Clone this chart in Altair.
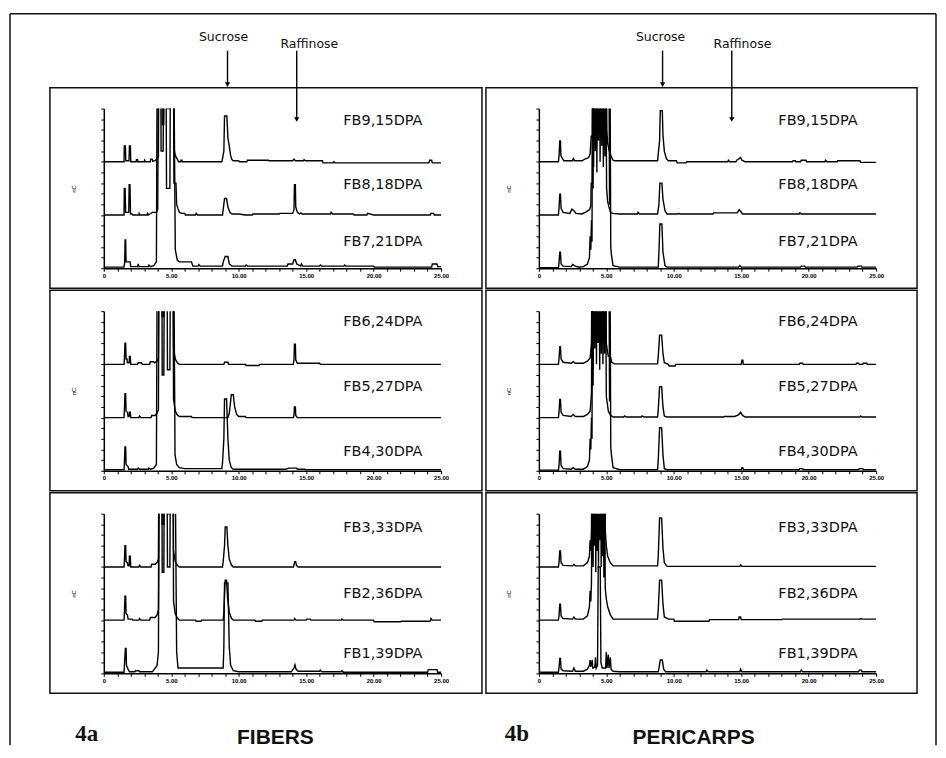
import altair as alt
import pandas as pd

# ---------------- data ----------------
X_TICKS = list(range(0, 26))
Y_TICKS = [0, 0.2, 0.4, 0.6, 0.8, 1.0, 1.2, 1.4, 1.6, 1.8, 2.0, 2.2, 2.4, 2.6, 2.8, 3.0]

ANN_NAMES = ["Sucrose", "Raffinose"]
ANN_T = [9.17, 14.3]

# Fibers, row 1
A1_FB9 = [(0,0),(1.5,0),(1.52,0.30),(1.6,0.30),(1.63,0.02),(1.87,0.02),(1.9,0.30),(1.97,0.30),(2.0,0),(2.4,0),(2.42,0.04),(2.5,0.04),(2.52,0),(3.0,0),(3.02,0.03),(3.1,0),(3.45,0),(3.47,0.05),(3.6,0.05),(3.62,0.01),(3.8,0.02),(3.95,0.06),(4.05,0.1),(4.1,3.6),(4.3,3.6),(4.33,0.7),(4.45,0.7),(4.5,3.6),(4.68,3.6),(4.72,1.0),(4.9,1.0),(4.95,3.6),(5.15,3.6),(5.2,0.25),(5.3,0.12),(5.45,0.05),(5.55,0.0),(5.7,0.0),(5.72,0.03),(5.8,0.03),(5.82,0),(8.75,0),(8.8,0.06),(8.9,0.2),(8.95,0.86),(9.12,0.86),(9.2,0.45),(9.3,0.3),(9.4,0.12),(9.5,0.04),(9.6,0.02),(10.0,0.02),(10.05,0),(10.6,0),(10.65,0.03),(12.2,0.03),(12.25,0.02),(14.0,0.02),(14.1,0.05),(14.2,0.02),(14.8,0.02),(14.85,0.04),(14.95,0.02),(16.2,0.02),(16.25,-0.02),(17.0,-0.02),(17.05,0.0),(17.15,-0.02),(24.1,-0.02),(24.15,0.03),(24.3,0.03),(24.35,-0.02),(25,-0.02)]
A1_FB8 = [(0,0),(1.5,0),(1.52,0.5),(1.58,0.5),(1.62,0.05),(1.85,0.05),(1.88,0.57),(1.94,0.57),(1.98,0.02),(2.1,0.02),(2.15,0),(2.6,0),(2.62,0.03),(2.7,0),(3.2,0),(3.25,0.03),(3.3,0),(3.6,0.05),(3.9,0.05),(4.0,0.1),(4.05,3.6),(4.2,3.6),(4.25,1.2),(4.4,1.2),(4.45,3.6),(4.6,3.6),(4.65,0.5),(4.9,0.5),(4.95,3.6),(5.15,3.6),(5.2,0.6),(5.35,0.6),(5.4,0.2),(5.5,0.12),(5.6,0.05),(5.8,0.03),(6.0,0.03),(6.05,0),(6.8,0),(6.85,0.03),(6.95,0),(8.8,0),(8.85,0.1),(8.95,0.31),(9.1,0.31),(9.2,0.15),(9.35,0.05),(9.5,0.02),(10.0,0.02),(10.5,0.0),(11.0,0.0),(11.05,0.02),(13.0,0.02),(13.05,0.03),(14.0,0.03),(14.1,0.1),(14.13,0.57),(14.2,0.57),(14.23,0.15),(14.35,0.05),(14.5,0.02),(14.6,0.04),(14.7,0.02),(16.8,0.02),(16.85,0.05),(16.95,0.02),(18.5,0.02),(18.55,0),(19.5,0),(19.55,0.03),(20.0,0.0),(24.2,0),(24.25,0.03),(24.45,0.03),(24.5,0),(25,0)]
A1_FB7 = [(0,0.02),(1.5,0.02),(1.55,0.12),(1.58,0.53),(1.62,0.53),(1.65,0.12),(1.95,0.12),(2.0,0.03),(2.5,0.03),(2.55,0.08),(2.6,0.03),(3.3,0.03),(3.35,0.06),(3.45,0.03),(3.7,0.05),(3.9,0.12),(3.95,3.6),(5.2,3.6),(5.3,0.35),(5.45,0.15),(5.6,0.12),(6.5,0.12),(6.6,0.04),(7.0,0.04),(7.05,0.07),(7.15,0.04),(8.8,0.04),(8.85,0.12),(9.0,0.22),(9.2,0.22),(9.3,0.08),(9.5,0.04),(10.5,0.04),(10.55,0.06),(10.65,0.04),(13.6,0.04),(13.65,0.08),(14.0,0.08),(14.1,0.16),(14.2,0.16),(14.3,0.08),(14.6,0.04),(14.65,0.08),(14.75,0.04),(16.0,0.04),(16.05,0.06),(16.15,0.04),(17.8,0.04),(17.85,0.06),(17.95,0.04),(20.0,0.04),(20.05,0.02),(24.3,0.02),(24.35,0.08),(24.7,0.08),(24.75,0.03),(25,0.03)]

# Fibers, row 2
A2_FB6 = [(0,0),(1.5,0),(1.53,0.12),(1.57,0.40),(1.62,0.40),(1.65,0.1),(1.72,0.1),(1.75,0.03),(1.88,0.03),(1.9,0.15),(1.96,0.15),(2.0,0),(2.5,0),(2.55,0.03),(2.8,0.03),(2.85,0),(3.4,0),(3.45,0.05),(3.7,0.05),(3.75,0.03),(3.95,0.06),(4.05,0.12),(4.1,3.6),(4.3,3.6),(4.33,0.9),(4.45,0.9),(4.5,3.6),(4.68,3.6),(4.72,1.1),(4.9,1.1),(4.95,3.6),(5.12,3.6),(5.17,0.3),(5.3,0.1),(5.45,0.03),(5.6,0),(8.9,0),(8.95,0.04),(9.2,0.04),(9.25,0),(10.5,0),(10.55,-0.02),(11.5,-0.02),(11.55,0),(14.05,0),(14.1,0.1),(14.13,0.38),(14.2,0.38),(14.23,0.08),(14.35,0.02),(16.0,0.02),(16.05,0),(25,0)]
A2_FB5 = [(0,0),(1.5,0),(1.53,0.15),(1.57,0.45),(1.62,0.45),(1.65,0.12),(1.75,0.1),(1.8,0.02),(1.88,0.02),(1.9,0.1),(1.96,0.1),(2.0,0),(2.6,0),(2.65,0.03),(2.75,0),(3.5,0),(3.55,0.04),(3.8,0.04),(3.95,0.08),(4.05,0.15),(4.1,3.6),(4.3,3.6),(4.33,0.8),(4.45,0.8),(4.5,3.6),(4.68,3.6),(4.72,0.9),(4.9,0.9),(4.95,3.6),(5.12,3.6),(5.17,0.35),(5.3,0.12),(5.45,0.05),(5.6,0.02),(6.5,0.02),(6.55,0),(9.2,0),(9.3,0.08),(9.4,0.3),(9.45,0.43),(9.6,0.43),(9.7,0.2),(9.85,0.06),(10.0,0.02),(10.5,0.02),(10.55,0),(14.05,0),(14.1,0.05),(14.13,0.2),(14.2,0.2),(14.23,0.04),(14.35,0),(25,0)]
A2_FB4 = [(0,0.02),(1.5,0.02),(1.53,0.15),(1.57,0.45),(1.62,0.45),(1.65,0.12),(1.8,0.08),(1.85,0.03),(2.5,0.03),(2.55,0.05),(2.65,0.03),(3.3,0.03),(3.35,0.05),(3.45,0.03),(3.7,0.05),(3.9,0.12),(3.95,3.6),(5.2,3.6),(5.28,0.3),(5.4,0.12),(5.6,0.06),(6.0,0.04),(8.75,0.04),(8.8,0.15),(8.9,0.6),(8.95,1.35),(9.1,1.35),(9.2,0.6),(9.3,0.2),(9.45,0.06),(9.6,0.03),(13.5,0.03),(13.7,0.05),(14.3,0.05),(14.35,0.03),(14.9,0.03),(14.95,0.02),(25,0.02)]

# Fibers, row 3
A3_FB3 = [(0,0),(1.5,0),(1.53,0.12),(1.57,0.40),(1.62,0.40),(1.65,0.1),(1.75,0.08),(1.8,0.02),(1.88,0.02),(1.9,0.2),(1.96,0.2),(2.0,0),(2.6,0),(2.65,0.03),(2.75,0),(3.5,0),(3.55,0.05),(3.8,0.05),(3.95,0.08),(4.05,0.15),(4.1,3.6),(4.3,3.6),(4.33,0.8),(4.45,0.8),(4.5,3.6),(4.68,3.6),(4.72,1.0),(4.9,1.0),(4.95,3.6),(5.12,3.6),(5.17,0.3),(5.3,0.1),(5.45,0.03),(5.6,0),(8.8,0),(8.85,0.1),(8.95,0.4),(9.0,0.75),(9.12,0.75),(9.2,0.4),(9.3,0.15),(9.45,0.04),(9.6,0),(14.05,0),(14.1,0.04),(14.15,0.1),(14.22,0.1),(14.28,0.03),(14.4,0),(25,0)]
A3_FB2 = [(0,0),(1.5,0),(1.53,0.15),(1.57,0.45),(1.62,0.45),(1.65,0.12),(1.75,0.1),(1.8,0.02),(2.1,0.02),(2.15,0),(2.6,0),(2.65,0.03),(2.75,0),(3.4,0),(3.45,0.05),(3.8,0.05),(3.95,0.1),(4.05,0.2),(4.1,3.6),(4.3,3.6),(4.33,0.9),(4.45,0.9),(4.5,3.6),(4.68,3.6),(4.72,1.0),(4.9,1.0),(4.95,3.6),(5.12,3.6),(5.17,0.35),(5.3,0.12),(5.45,0.04),(5.6,0),(6.8,0),(6.85,-0.02),(7.2,-0.02),(7.25,0),(8.85,0),(8.9,0.15),(8.95,0.5),(9.0,0.75),(9.1,0.75),(9.18,0.4),(9.3,0.15),(9.45,0.04),(9.6,0),(11.2,0),(11.25,-0.02),(11.7,-0.02),(11.75,0),(14.1,0),(14.15,0.03),(14.25,0),(15.0,0),(15.05,0.02),(15.3,0.02),(15.35,0),(17.6,0),(17.65,0.02),(17.75,0),(20.0,0),(20.05,-0.03),(22.0,-0.03),(22.05,-0.02),(24.2,-0.02),(24.25,0.03),(24.35,0),(25,0)]
A3_FB1 = [(0,0.02),(1.5,0.02),(1.53,0.15),(1.6,0.47),(1.65,0.47),(1.68,0.15),(1.8,0.08),(1.9,0.03),(2.3,0.03),(2.35,0.05),(2.6,0.05),(2.65,0.03),(3.6,0.03),(3.7,0.06),(3.95,0.15),(4.05,0.4),(4.1,3.6),(5.3,3.6),(5.4,0.4),(5.5,0.1),(8.85,0.1),(8.9,0.5),(8.95,1.7),(9.2,1.7),(9.3,0.5),(9.4,0.15),(9.6,0.05),(10.0,0.03),(13.9,0.03),(14.1,0.1),(14.17,0.16),(14.25,0.08),(14.4,0.04),(16.0,0.04),(16.05,0.06),(16.15,0.03),(17.6,0.03),(17.65,0.05),(17.75,0.02),(24.0,0.02),(24.05,0.07),(24.7,0.07),(24.75,0.02),(25,0.02)]

# Pericarps, row 1
B1_FB9 = [(0,0),(1.45,0),(1.5,0.12),(1.55,0.39),(1.6,0.39),(1.63,0.12),(1.75,0.06),(1.85,0.02),(2.5,0.02),(2.55,0.06),(2.65,0.02),(3.2,0.02),(3.4,0.05),(3.7,0.08),(3.8,0.15),(3.88,0.48),(3.98,0.48),(4.02,3.6),(4.08,0.7),(4.14,3.6),(4.2,1.1),(4.26,3.6),(4.32,0.8),(4.38,3.6),(4.44,1.3),(4.5,3.6),(4.56,0.9),(4.62,3.6),(4.68,1.2),(4.74,3.6),(4.8,1.0),(4.86,3.6),(4.92,1.4),(4.98,3.6),(5.04,0.6),(5.1,0.35),(5.2,0.22),(5.3,0.14),(5.4,0.08),(5.5,0.03),(5.6,0.02),(8.8,0.02),(8.85,0.15),(8.95,0.4),(9.0,0.96),(9.15,0.96),(9.2,0.5),(9.3,0.2),(9.45,0.06),(9.6,0.02),(10.2,0.02),(10.25,-0.02),(10.9,-0.02),(10.95,0),(14.0,0),(14.05,0.03),(14.15,0),(14.6,0),(14.7,0.04),(14.85,0.06),(14.95,0.08),(15.05,0.03),(15.3,0),(18.8,0),(18.85,0.02),(19.0,0.02),(19.05,0),(19.4,0),(19.45,0.03),(19.8,0.03),(19.85,0),(21.2,0),(21.25,0.03),(21.35,0),(22.1,0),(22.15,0.02),(23.8,0.02),(23.85,-0.01),(25,-0.01)]
B1_FB8 = [(0,0),(1.45,0),(1.5,0.15),(1.55,0.39),(1.6,0.39),(1.65,0.12),(1.8,0.05),(2.3,0.03),(2.45,0.11),(2.6,0.08),(2.75,0.03),(3.2,0.02),(3.5,0.06),(3.75,0.1),(3.85,0.17),(3.88,0.6),(3.97,0.6),(4.0,3.6),(4.06,0.9),(4.12,3.6),(4.18,1.2),(4.24,3.6),(4.3,0.8),(4.36,3.6),(4.42,1.4),(4.48,3.6),(4.54,1.0),(4.6,3.6),(4.66,1.3),(4.72,3.6),(4.78,0.9),(4.84,3.6),(4.9,1.1),(4.96,3.6),(5.02,0.5),(5.1,0.25),(5.2,0.15),(5.3,0.06),(5.45,0.03),(6.0,0.02),(7.3,0.02),(7.35,0.05),(7.45,0.02),(8.8,0.02),(8.9,0.2),(8.97,0.6),(9.12,0.6),(9.2,0.3),(9.35,0.08),(9.5,0.02),(10.3,0.02),(10.35,0.03),(10.45,0.02),(12.9,0.02),(12.95,0.04),(13.8,0.04),(14.7,0.04),(14.85,0.1),(14.95,0.07),(15.1,0.02),(19.3,0.02),(19.35,0.04),(19.45,0.02),(25,0.02)]
B1_FB7 = [(0,0.01),(1.45,0.01),(1.5,0.12),(1.55,0.3),(1.6,0.3),(1.65,0.08),(1.8,0.04),(2.4,0.03),(2.5,0.07),(2.7,0.04),(3.0,0.02),(3.3,0.03),(3.6,0.08),(3.75,0.2),(3.8,0.6),(3.85,0.35),(3.9,0.9),(3.94,0.5),(3.97,3.6),(4.02,1.5),(4.06,3.6),(5.2,3.6),(5.24,1.2),(5.28,3.6),(5.33,0.4),(5.38,0.25),(5.5,0.05),(6.0,0.02),(8.85,0.02),(8.9,0.3),(8.97,0.83),(9.12,0.83),(9.2,0.3),(9.35,0.05),(9.5,0.02),(14.8,0.02),(14.9,0.05),(15.0,0.02),(19.4,0.02),(19.45,0.04),(19.7,0.04),(19.75,0.02),(23.6,0.02),(23.65,0.04),(23.9,0.04),(23.95,0.02),(25,0.02)]

# Pericarps, row 2
B2_FB6 = [(0,0),(1.45,0),(1.5,0.12),(1.55,0.33),(1.6,0.33),(1.65,0.1),(1.8,0.04),(2.4,0.02),(2.55,0.05),(2.7,0.02),(3.3,0.02),(3.6,0.06),(3.8,0.12),(3.9,0.4),(3.97,3.6),(4.03,0.8),(4.09,3.6),(4.15,1.2),(4.21,3.6),(4.27,0.9),(4.33,3.6),(4.39,1.3),(4.45,3.6),(4.51,1.0),(4.57,3.6),(4.63,1.2),(4.69,3.6),(4.75,0.9),(4.81,3.6),(4.87,1.1),(4.93,3.6),(5.0,0.4),(5.08,0.25),(5.15,0.15),(5.3,0.15),(5.4,0.04),(5.6,0.01),(8.8,0.01),(8.85,0.15),(8.95,0.55),(9.1,0.55),(9.2,0.2),(9.3,0.03),(9.6,0.0),(9.65,-0.03),(10.1,-0.03),(10.15,0),(15.0,0),(15.05,0.08),(15.12,0.08),(15.15,0),(19.3,0),(19.35,0.02),(19.55,0.02),(19.6,0),(23.5,0),(23.55,0.02),(23.7,0.02),(23.75,0),(24.0,0),(24.05,0.02),(24.3,0.02),(24.35,0),(25,0)]
B2_FB5 = [(0,0),(1.45,0),(1.5,0.12),(1.55,0.34),(1.6,0.34),(1.65,0.1),(1.8,0.04),(2.4,0.02),(2.55,0.06),(2.7,0.02),(3.3,0.02),(3.6,0.06),(3.8,0.12),(3.9,0.45),(3.97,3.6),(4.03,0.9),(4.09,3.6),(4.15,1.3),(4.21,3.6),(4.27,1.0),(4.33,3.6),(4.39,1.4),(4.45,3.6),(4.51,0.9),(4.57,3.6),(4.63,1.2),(4.69,3.6),(4.75,1.0),(4.81,3.6),(4.87,1.2),(4.93,3.6),(5.0,0.4),(5.08,0.25),(5.15,0.12),(5.3,0.05),(5.5,0.01),(6.3,0.01),(6.35,0.03),(6.5,0.01),(7.6,0.01),(7.65,0.03),(7.8,0.01),(8.8,0.01),(8.85,0.15),(8.95,0.58),(9.1,0.58),(9.2,0.2),(9.3,0.03),(9.5,0.01),(13.7,0.01),(13.75,0.02),(14.1,0.02),(14.5,0.02),(14.8,0.05),(14.95,0.1),(15.1,0.04),(15.3,0.01),(23.8,0.01),(23.85,0.03),(23.95,0.01),(25,0.01)]
B2_FB4 = [(0,0.01),(1.45,0.01),(1.5,0.12),(1.55,0.37),(1.6,0.37),(1.65,0.1),(1.8,0.04),(2.4,0.03),(2.55,0.06),(2.7,0.03),(3.3,0.03),(3.6,0.08),(3.75,0.2),(3.8,0.6),(3.85,0.4),(3.9,1.0),(3.94,0.6),(3.97,3.6),(4.02,1.6),(4.06,3.6),(5.2,3.6),(5.24,1.3),(5.28,3.6),(5.33,0.45),(5.38,0.3),(5.5,0.06),(6.0,0.02),(8.8,0.02),(8.85,0.2),(8.95,0.81),(9.1,0.81),(9.2,0.3),(9.3,0.04),(9.5,0.02),(15.0,0.02),(15.05,0.06),(15.12,0.06),(15.15,0.02),(19.3,0.02),(19.35,0.04),(19.55,0.04),(19.6,0.02),(23.7,0.02),(23.75,0.04),(24.0,0.04),(24.05,0.02),(25,0.02)]

# Pericarps, row 3
B3_FB3 = [(0,0),(1.45,0),(1.5,0.1),(1.55,0.3),(1.6,0.3),(1.65,0.08),(1.8,0.03),(2.5,0.02),(2.6,0.05),(2.7,0.02),(3.3,0.02),(3.6,0.08),(3.75,0.2),(3.8,0.5),(3.85,0.3),(3.9,0.7),(3.97,3.6),(4.02,0.9),(4.07,3.6),(4.12,1.3),(4.17,3.6),(4.22,1.0),(4.27,3.6),(4.32,1.5),(4.37,3.6),(4.42,1.1),(4.47,3.6),(4.52,1.4),(4.57,3.6),(4.62,0.9),(4.67,3.6),(4.72,1.2),(4.77,3.6),(4.82,1.0),(4.87,3.6),(4.92,0.7),(5.0,0.4),(5.1,0.2),(5.3,0.08),(5.5,0.02),(8.8,0.02),(8.85,0.2),(8.95,0.92),(9.1,0.92),(9.2,0.35),(9.3,0.08),(9.5,0.01),(14.9,0.01),(14.95,0.04),(15.05,0.01),(25,0.01)]
B3_FB2 = [(0,0),(1.45,0),(1.5,0.1),(1.55,0.3),(1.6,0.3),(1.65,0.08),(1.8,0.03),(2.5,0.02),(2.6,0.06),(2.7,0.02),(3.3,0.02),(3.6,0.08),(3.75,0.25),(3.8,0.55),(3.85,0.35),(3.9,0.7),(3.97,3.6),(4.02,1.0),(4.07,3.6),(4.12,1.4),(4.17,3.6),(4.22,0.9),(4.27,3.6),(4.32,1.3),(4.37,3.6),(4.42,1.0),(4.47,3.6),(4.52,1.5),(4.57,3.6),(4.62,1.0),(4.67,3.6),(4.72,1.2),(4.77,3.6),(4.82,0.8),(4.87,3.6),(4.92,0.6),(5.0,0.4),(5.1,0.25),(5.3,0.1),(5.5,0.02),(8.8,0.02),(8.85,0.2),(8.95,0.75),(9.1,0.75),(9.2,0.3),(9.3,0.06),(9.6,0.02),(10.0,0.02),(10.05,-0.02),(12.6,-0.02),(12.65,0.01),(14.8,0.01),(14.85,0.06),(14.95,0.06),(15.0,0.01),(18.0,0.01),(18.05,0.02),(23.8,0.02),(23.85,0.03),(23.95,0.02),(25,0.02)]
B3_FB1 = [(0,0.02),(1.45,0.02),(1.5,0.12),(1.55,0.28),(1.6,0.28),(1.65,0.08),(1.8,0.05),(2.5,0.04),(2.6,0.1),(2.7,0.04),(3.3,0.04),(3.6,0.08),(3.75,0.15),(3.8,0.25),(3.85,0.12),(3.95,0.25),(4.0,0.1),(4.15,0.12),(4.2,0.3),(4.25,0.1),(4.35,0.15),(4.4,2.0),(4.55,2.0),(4.6,0.2),(4.7,0.1),(4.95,0.1),(5.0,0.4),(5.05,0.1),(5.15,0.35),(5.2,0.1),(5.3,0.3),(5.35,0.08),(5.5,0.04),(6.0,0.03),(8.85,0.03),(8.9,0.1),(9.0,0.25),(9.15,0.25),(9.25,0.08),(9.4,0.03),(12.4,0.03),(12.45,0.06),(12.55,0.03),(14.9,0.03),(14.95,0.08),(15.05,0.03),(19.4,0.03),(19.45,0.06),(19.55,0.03),(23.7,0.03),(23.75,0.06),(23.9,0.06),(23.95,0.03),(25,0.03)]

# (label, baseline offset, points) per panel
PANELS = [
    [[("FB9,15DPA", 2, A1_FB9), ("FB8,18DPA", 1, A1_FB8), ("FB7,21DPA", 0, A1_FB7)],
     [("FB9,15DPA", 2, B1_FB9), ("FB8,18DPA", 1, B1_FB8), ("FB7,21DPA", 0, B1_FB7)]],
    [[("FB6,24DPA", 2, A2_FB6), ("FB5,27DPA", 1, A2_FB5), ("FB4,30DPA", 0, A2_FB4)],
     [("FB6,24DPA", 2, B2_FB6), ("FB5,27DPA", 1, B2_FB5), ("FB4,30DPA", 0, B2_FB4)]],
    [[("FB3,33DPA", 2, A3_FB3), ("FB2,36DPA", 1, A3_FB2), ("FB1,39DPA", 0, A3_FB1)],
     [("FB3,33DPA", 2, B3_FB3), ("FB2,36DPA", 1, B3_FB2), ("FB1,39DPA", 0, B3_FB1)]],
]
PANEL_CODES = ["4a", "4b"]
PANEL_TITLES = ["FIBERS", "PERICARPS"]

# ---------------- styling / layout ----------------
W, H = 338, 160
LABEL_Y = [[12, 77, 134], [11, 76, 141], [14, 80, 141]]
FONT = "DejaVu Sans"
DUMMY = pd.DataFrame({"d": [0]})

xs = alt.Scale(domain=[0, 25], nice=False, zero=False)
ys = alt.Scale(domain=[0, 3], nice=False, zero=False)
x_axis = alt.Axis(values=X_TICKS, title="", grid=False, tickSize=3, tickColor="black",
                  domainColor="black", domainWidth=1.5, labelFontSize=6, labelFontWeight="bold",
                  labelColor="black", labelPadding=1, labelFlush=False, labelOverlap=False,
                  labelExpr="datum.value % 5 == 0 ? (datum.value == 0 ? '0' : format(datum.value, '.2f')) : ''")
y_axis = alt.Axis(values=Y_TICKS, title="nC", grid=False, labels=False, tickSize=3, tickColor="black",
                  domainColor="black", domainWidth=1.5, titleFontSize=6, titleFontWeight="normal",
                  titleColor="black", titlePadding=24)


def make_panel(r, c):
    rows = []
    for label, off, pts in PANELS[r][c]:
        for i, (t, y) in enumerate(pts):
            rows.append({"trace": label, "offset": off, "i": i, "t": t, "y": y})
    df = pd.DataFrame(rows)
    lines = alt.Chart(df).transform_calculate(yabs="datum.y + datum.offset").mark_line(
        color="black", strokeWidth=1.4, clip=True
    ).encode(
        x=alt.X("t:Q", scale=xs, axis=x_axis),
        y=alt.Y("yabs:Q", scale=ys, axis=y_axis),
        detail="trace:N",
        order="i:Q",
    )
    layers = [lines]
    left = -54 if c == 0 else -53
    frame = alt.Chart(DUMMY).mark_rect(fillOpacity=0, stroke="#111", strokeWidth=1.5).encode(
        x=alt.value(left), x2=alt.value(379), y=alt.value(-21), y2=alt.value(180))
    layers.append(frame)
    for k, (label, off, pts) in enumerate(PANELS[r][c]):
        layers.append(alt.Chart(pd.DataFrame({"label": [label]})).mark_text(
            align="left", baseline="middle", fontSize=14.5, font=FONT, color="#111"
        ).encode(text="label:N", x=alt.value(240), y=alt.value(LABEL_Y[r][k])))
    if r == 0:
        ends = [-21, 14]
        txt_pos = [(120, -72), (206, -65)] if c == 0 else [(122, -72), (204, -65)]
        for name, t, yend, (tx, ty) in zip(ANN_NAMES, ANN_T, ends, txt_pos):
            adf = pd.DataFrame({"name": [name], "t": [t]})
            layers.append(alt.Chart(adf).mark_rule(color="black", strokeWidth=1.4).encode(
                x=alt.X("t:Q", scale=xs, axis=x_axis), y=alt.value(-58), y2=alt.value(yend - 3)))
            layers.append(alt.Chart(adf).mark_point(shape="triangle-down", filled=True, color="black",
                                                    size=28, opacity=1).encode(
                x=alt.X("t:Q", scale=xs, axis=x_axis), y=alt.value(yend - 3)))
            layers.append(alt.Chart(adf).mark_text(fontSize=12.5, font=FONT, color="#111",
                                                   baseline="middle").encode(
                text="name:N", x=alt.value(tx), y=alt.value(ty)))
        if c == 0:
            # outer figure border (left, top, right)
            layers.append(alt.Chart(DUMMY).mark_rule(color="#111", strokeWidth=1.5).encode(
                x=alt.value(-94), x2=alt.value(834), y=alt.value(-95)))
            layers.append(alt.Chart(DUMMY).mark_rule(color="#111", strokeWidth=1.5).encode(
                x=alt.value(-94), y=alt.value(-95), y2=alt.value(638)))
            layers.append(alt.Chart(DUMMY).mark_rule(color="#111", strokeWidth=1.5).encode(
                x=alt.value(834), y=alt.value(-95), y2=alt.value(638)))
    if r == 2:
        code_x = -17 if c == 0 else -22
        title_x = 172 if c == 0 else 155
        layers.append(alt.Chart(pd.DataFrame({"code": [PANEL_CODES[c]]})).mark_text(
            fontSize=23, font="Liberation Serif", fontWeight="bold", color="#111", baseline="middle"
        ).encode(text="code:N", x=alt.value(code_x), y=alt.value(221)))
        layers.append(alt.Chart(pd.DataFrame({"title": [PANEL_TITLES[c]]})).mark_text(
            fontSize=21, font="Liberation Sans", fontWeight="bold", color="#111", baseline="middle"
        ).encode(text="title:N", x=alt.value(title_x), y=alt.value(225)))
    return alt.layer(*layers).properties(width=W, height=H)


cells = [make_panel(r, c) for r in range(3) for c in range(2)]

chart = alt.concat(*cells, columns=2, bounds="flush",
                   spacing=alt.RowColnumber(row=43, column=98)).properties(
    padding={"left": 0, "top": 3, "right": 0, "bottom": 0}, background="white"
).configure_view(stroke="transparent")

chart.save("out.html", embed_options={"renderer": "svg", "actions": False})
